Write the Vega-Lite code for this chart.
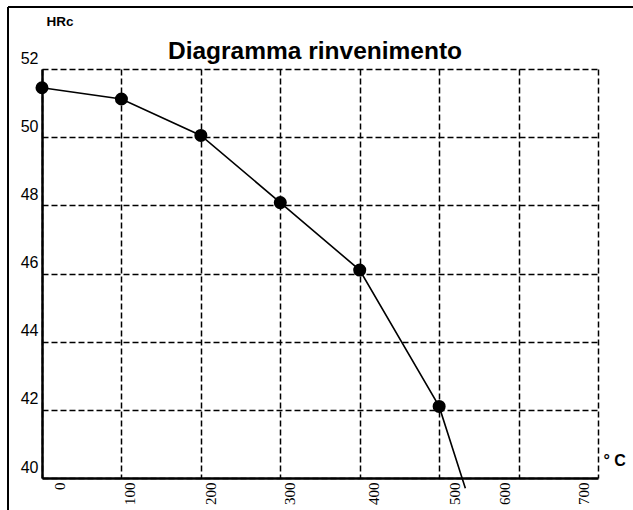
{
  "$schema": "https://vega.github.io/schema/vega-lite/v6.json",
  "width": 556,
  "height": 409,
  "autosize": {"type": "none"},
  "padding": {"left": 42, "top": 69, "right": 35, "bottom": 32},
  "background": "white",
  "title": {"text": "Diagramma rinvenimento", "font": "Liberation Sans", "fontSize": 24.5, "fontWeight": "bold", "color": "black", "anchor": "middle", "offset": 0, "dy": 59, "dx": -5},
  "config": {"view": {"stroke": null}},
  "data": {"values": [
    {"temp": 0, "hrc": 51.45},
    {"temp": 100, "hrc": 51.12},
    {"temp": 200, "hrc": 50.05},
    {"temp": 300, "hrc": 48.08},
    {"temp": 400, "hrc": 46.1},
    {"temp": 500, "hrc": 42.1},
    {"temp": 533, "hrc": 39.7}
  ]},
  "layer": [
    {"data": {"values": [{"x1": -42.8, "x2": 800, "y1": 53.82, "y2": 53.82}, {"x1": -42.8, "x2": -42.8, "y1": 53.82, "y2": 30}]},
      "mark": {"type": "rule", "color": "black", "strokeWidth": 2, "clip": false},
      "encoding": {"x": {"field": "x1", "type": "quantitative"}, "x2": {"field": "x2"}, "y": {"field": "y1", "type": "quantitative"}, "y2": {"field": "y2"}}},
    {"mark": {"type": "line", "color": "black", "strokeWidth": 1.6},
      "encoding": {
    "x": {"field": "temp", "type": "quantitative", "scale": {"domain": [0, 700], "nice": false},
      "axis": {"values": [0, 100, 200, 300, 400, 500, 600, 700], "title": "° C", "titleAngle": 0, "titleX": 561, "titleY": -13, "titleAlign": "left", "titleBaseline": "alphabetic", "titleFont": "Liberation Sans", "titleFontSize": 16, "titleFontWeight": "bold", "titleColor": "black",
        "labelAngle": 270, "labelAlign": "right", "labelBaseline": "middle", "labelFont": "Liberation Serif", "labelFontSize": 15, "labelColor": "black", "labelPadding": 4, "labelFlush": false, "labelOverlap": false, "labelBound": false,
        "labelOffset": {"condition": [{"test": "datum.value == 0", "value": 17}, {"test": "datum.value == 100", "value": 8}, {"test": "datum.value == 300", "value": 9}, {"test": "datum.value == 400", "value": 14}, {"test": "datum.value == 500", "value": 15}, {"test": "datum.value == 600", "value": -14}, {"test": "datum.value == 700", "value": -15}], "value": 10},
        "ticks": false, "domainColor": "black", "domainWidth": 2.5, "grid": true, "gridColor": "black", "gridDash": [6, 3], "gridWidth": 1.5, "gridOpacity": 1}},
    "y": {"field": "hrc", "type": "quantitative", "scale": {"domain": [40, 52], "nice": false, "zero": false},
      "axis": {"values": [40, 42, 44, 46, 48, 50, 52], "title": "HRc", "titleAngle": 0, "titleX": 4, "titleY": -44, "titleAlign": "left", "titleBaseline": "alphabetic", "titleFont": "Liberation Sans", "titleFontSize": 13.5, "titleFontWeight": "bold", "titleColor": "black",
        "labelFont": "Liberation Sans", "labelFontSize": 16, "labelColor": "black", "labelBaseline": "alphabetic", "labelOffset": -6, "labelPadding": 4,
        "ticks": false, "domainColor": "black", "domainWidth": 2.5, "grid": true, "gridColor": "black", "gridDash": [6, 3], "gridWidth": 1.5, "gridOpacity": 1}}
      }},
    {"transform": [{"filter": "datum.temp <= 500"}], "mark": {"type": "circle", "color": "black", "opacity": 1, "size": 170},
      "encoding": {"x": {"field": "temp", "type": "quantitative"}, "y": {"field": "hrc", "type": "quantitative"}}}
  ]
}
